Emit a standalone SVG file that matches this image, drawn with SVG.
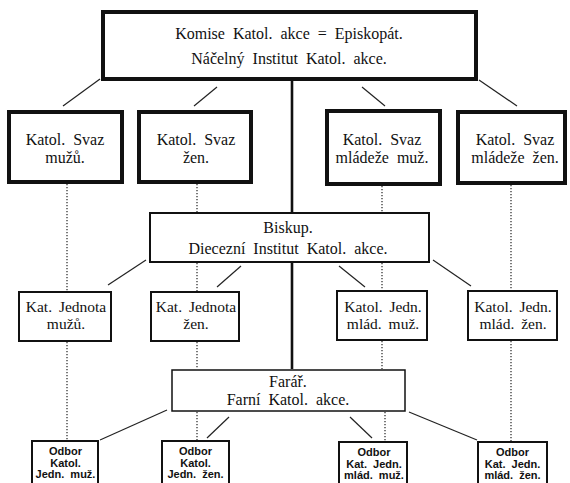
<svg xmlns="http://www.w3.org/2000/svg" width="570" height="483" viewBox="0 0 570 483">
<style>
.bg{fill:#fff}
.b4{fill:#fff;stroke:#111;stroke-width:4}
.b2{fill:#fff;stroke:#111;stroke-width:2}
.b15{fill:#fff;stroke:#111;stroke-width:1.5}
.ln{stroke:#222;stroke-width:1.2;fill:none}
.dt{stroke:#222;stroke-width:1.2;stroke-dasharray:1.3 1.7;fill:none}
.ax{stroke:#111;stroke-width:2.6;fill:none}
.t16{font-family:"Liberation Serif",serif;font-size:16px;word-spacing:4px;text-anchor:middle;fill:#111}
.t15{font-family:"Liberation Serif",serif;font-size:15.5px;word-spacing:3px;text-anchor:middle;fill:#111}
.ts{font-family:"Liberation Sans",sans-serif;font-size:11px;font-weight:bold;word-spacing:3px;text-anchor:middle;fill:#111}
</style>
<rect class="bg" x="0" y="0" width="570" height="483"/>
<g id="connectors">
<line class="ax" x1="292" y1="81" x2="292" y2="369"/>
<line class="ln" x1="100" y1="79" x2="63" y2="106"/>
<line class="ln" x1="217" y1="87" x2="194" y2="106"/>
<line class="ln" x1="362" y1="87" x2="385" y2="106"/>
<line class="ln" x1="479" y1="80" x2="517" y2="106"/>
<line class="ln" x1="146" y1="260" x2="108" y2="285"/>
<line class="ln" x1="241" y1="266" x2="217" y2="287"/>
<line class="ln" x1="339" y1="266" x2="365" y2="287"/>
<line class="ln" x1="433" y1="260" x2="471" y2="286"/>
<line class="ln" x1="167" y1="410" x2="100" y2="440"/>
<line class="ln" x1="229" y1="417" x2="207" y2="438"/>
<line class="ln" x1="350" y1="417" x2="372" y2="438"/>
<line class="ln" x1="409" y1="412" x2="477" y2="440"/>
<line class="dt" x1="67" y1="184" x2="67" y2="291"/>
<line class="dt" x1="67" y1="342" x2="67" y2="440"/>
<line class="dt" x1="197" y1="184" x2="197" y2="212"/>
<line class="dt" x1="197" y1="263" x2="197" y2="291"/>
<line class="dt" x1="197" y1="342" x2="197" y2="369"/>
<line class="dt" x1="197" y1="412" x2="197" y2="441"/>
<line class="dt" x1="382" y1="186" x2="382" y2="212"/>
<line class="dt" x1="382" y1="263" x2="382" y2="290"/>
<line class="dt" x1="382" y1="341" x2="382" y2="369"/>
<line class="dt" x1="385" y1="412" x2="385" y2="441"/>
<line class="dt" x1="511" y1="185" x2="511" y2="290"/>
<line class="dt" x1="511" y1="341" x2="511" y2="441"/>
</g>
<g id="komise">
<rect class="b4" x="103" y="12" width="373" height="67"/>
<text class="t16" x="289" y="39">Komise Katol. akce = Episkopát.</text>
<text class="t16" x="289" y="64">Náčelný Institut Katol. akce.</text>
</g>
<g id="svaz-muzu">
<rect class="b4" x="9" y="112" width="113" height="70"/>
<text class="t16" x="65" y="145">Katol. Svaz</text>
<text class="t16" x="65" y="163">mužů.</text>
</g>
<g id="svaz-zen">
<rect class="b4" x="139" y="112" width="112" height="70"/>
<text class="t16" x="196" y="145">Katol. Svaz</text>
<text class="t16" x="196" y="163">žen.</text>
</g>
<g id="svaz-mladeze-muz">
<rect class="b4" x="327" y="111" width="113" height="73"/>
<text class="t16" x="382" y="145">Katol. Svaz</text>
<text class="t16" x="382" y="163">mládeže muž.</text>
</g>
<g id="svaz-mladeze-zen">
<rect class="b4" x="458" y="112" width="107" height="71"/>
<text class="t16" x="515" y="145">Katol. Svaz</text>
<text class="t16" x="515" y="163">mládeže žen.</text>
</g>
<g id="biskup">
<rect class="b2" x="150" y="213" width="279" height="49"/>
<text class="t16" x="288" y="233">Biskup.</text>
<text class="t16" x="288" y="254">Diecezní Institut Katol. akce.</text>
</g>
<g id="jednota-muzu">
<rect class="b2" x="19" y="292" width="92" height="49"/>
<text class="t15" x="66" y="312">Kat. Jednota</text>
<text class="t15" x="66" y="329">mužů.</text>
</g>
<g id="jednota-zen">
<rect class="b2" x="151" y="292" width="88" height="49"/>
<text class="t15" x="196" y="312">Kat. Jednota</text>
<text class="t15" x="196" y="329">žen.</text>
</g>
<g id="jedn-mlad-muz">
<rect class="b2" x="337" y="291" width="90" height="49"/>
<text class="t15" x="383" y="312">Katol. Jedn.</text>
<text class="t15" x="383" y="329">mlád. muž.</text>
</g>
<g id="jedn-mlad-zen">
<rect class="b2" x="468" y="291" width="89" height="49"/>
<text class="t15" x="513" y="312">Katol. Jedn.</text>
<text class="t15" x="513" y="329">mlád. žen.</text>
</g>
<g id="farar">
<rect class="b15" x="172" y="370" width="233" height="41"/>
<text class="t16" x="288" y="387">Farář.</text>
<text class="t16" x="288" y="405">Farní Katol. akce.</text>
</g>
<g id="odbor-muz">
<rect class="b2" x="32" y="441" width="66" height="60"/>
<text class="ts" x="65.5" y="455">Odbor</text>
<text class="ts" x="65.5" y="466.5">Katol.</text>
<text class="ts" x="65.5" y="478">Jedn. muž.</text>
</g>
<g id="odbor-zen">
<rect class="b2" x="162" y="441" width="67" height="60"/>
<text class="ts" x="195.5" y="455">Odbor</text>
<text class="ts" x="195.5" y="466.5">Katol.</text>
<text class="ts" x="195.5" y="478">Jedn. žen.</text>
</g>
<g id="odbor-mlad-muz">
<rect class="b2" x="339" y="442" width="68" height="60"/>
<text class="ts" x="374" y="456">Odbor</text>
<text class="ts" x="374" y="467.5">Kat. Jedn.</text>
<text class="ts" x="374" y="479">mlád. muž.</text>
</g>
<g id="odbor-mlad-zen">
<rect class="b2" x="478" y="442" width="69" height="60"/>
<text class="ts" x="512.5" y="456">Odbor</text>
<text class="ts" x="512.5" y="467.5">Kat. Jedn.</text>
<text class="ts" x="512.5" y="479">mlád. žen.</text>
</g>
</svg>
